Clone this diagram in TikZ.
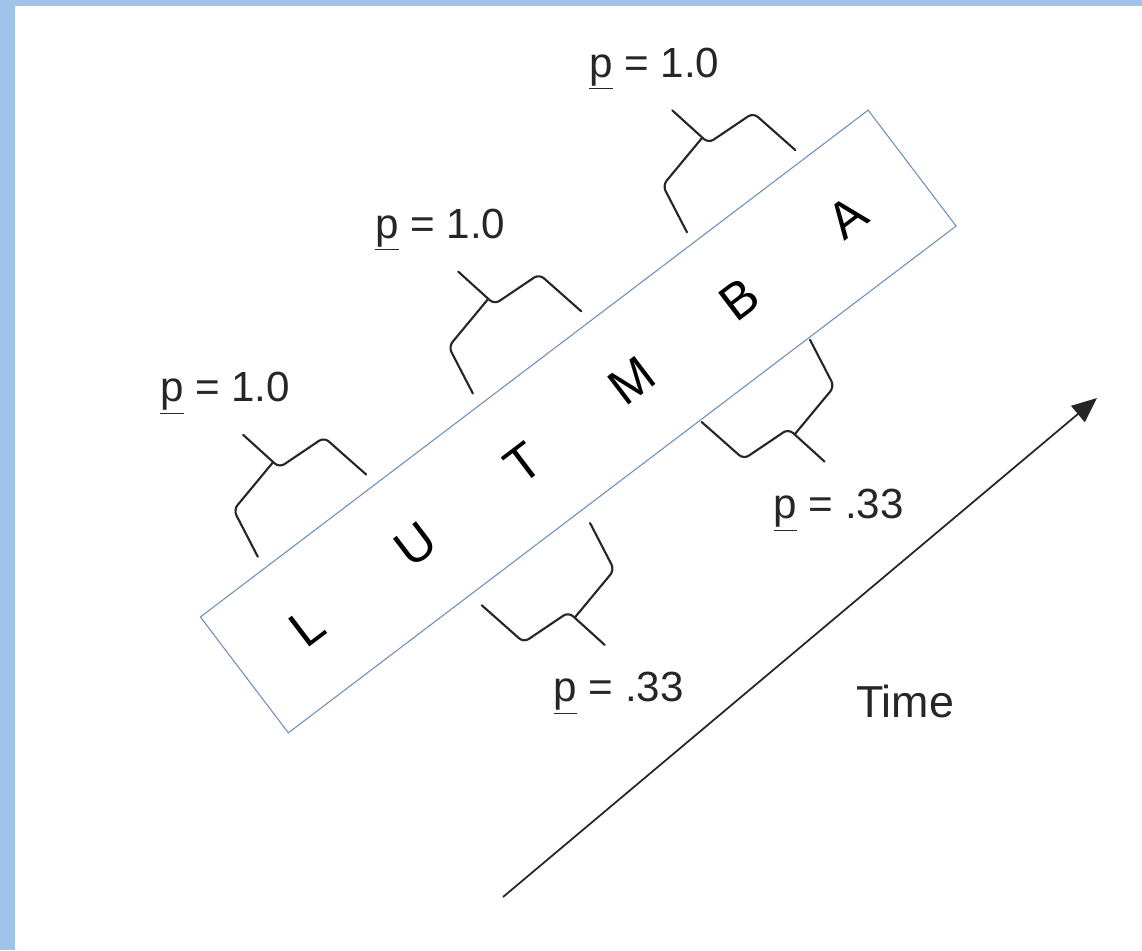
\documentclass[tikz,border=0pt]{standalone}
\usepackage{fontspec}
\setmainfont{Liberation Sans}
\usepackage{tikz}
\usetikzlibrary{arrows.meta}
\usetikzlibrary{calc}
\definecolor{frameblue}{RGB}{160,196,234}
\definecolor{stripblue}{RGB}{108,142,188}
\colorlet{inkgray}{black!85}

\begin{document}
\begin{tikzpicture}[x=0.02cm, y=0.02cm,
		letter/.style={font=\fontsize{29}{29}\selectfont, rotate=37.2},
		plabel/.style={font=\fontsize{24}{24}\selectfont, inkgray, anchor=base},
		bracepen/.style={line width=1.2pt, inkgray, rounded corners=3.5pt, line cap=round},
		pbrace/.pic={
			\draw[bracepen] (0,0) -- (9,52) -- (69,66);
			\draw[bracepen] (62,106) -- (71,58) -- (125,55) -- (136,0);
			\coordinate (-tip) at (62,106);
		}]
		\useasboundingbox (0,0) rectangle (1142,950);
		\fill[white] (0,0) rectangle (1142,950);
		\fill[frameblue] (0,0) rectangle (15,950);
		\fill[frameblue] (0,944) rectangle (1142,950);
		\node[draw=stripblue, line width=0.6pt, fill=white, rotate=37.2, minimum width=16.77cm, minimum height=2.91cm, inner sep=0pt] (strip) at (578.25,528.5) {};
		\foreach \ch [count=\i from 0] in {L,U,T,M,B,A}
			\node[letter] (ltr\i) at ($(strip.west)!{0.095+0.1615*\i}!(strip.east)$) {\ch};
		\begin{scope}[shift={(strip.center)}, rotate=37.2]
			\pic[rotate=37.2] (ub1) at (-337,86) {pbrace};
			\pic[rotate=37.2] (ub2) at (-67,86) {pbrace};
			\pic[rotate=37.2] (ub3) at (201,85) {pbrace};
			\pic[rotate=217.2] (lb1) at (-52,-88) {pbrace};
			\pic[rotate=217.2] (lb2) at (234,-75) {pbrace};
		\end{scope}
		\node[plabel] (pu1) at ($(ub1-tip)+(-18,33)$) {\underline{p} = 1.0};
		\node[plabel] (pu2) at ($(ub2-tip)+(-18,33)$) {\underline{p} = 1.0};
		\node[plabel] (pu3) at ($(ub3-tip)+(-18,33)$) {\underline{p} = 1.0};
		\node[plabel] (pl1) at ($(lb1-tip)+(14,-57)$) {\underline{p} = .33};
		\node[plabel] (pl2) at ($(lb2-tip)+(14,-57)$) {\underline{p} = .33};
		\coordinate (t0) at (503,53);
		\coordinate (t1) at (1097,552);
		\draw[line width=1pt, inkgray, -{Triangle[length=0.5cm, width=0.42cm]}] (t0) -- (t1);
		\node[plabel, font=\fontsize{25.5}{25.5}\selectfont] (time) at (905,233) {Time};
\end{tikzpicture}
\end{document}
